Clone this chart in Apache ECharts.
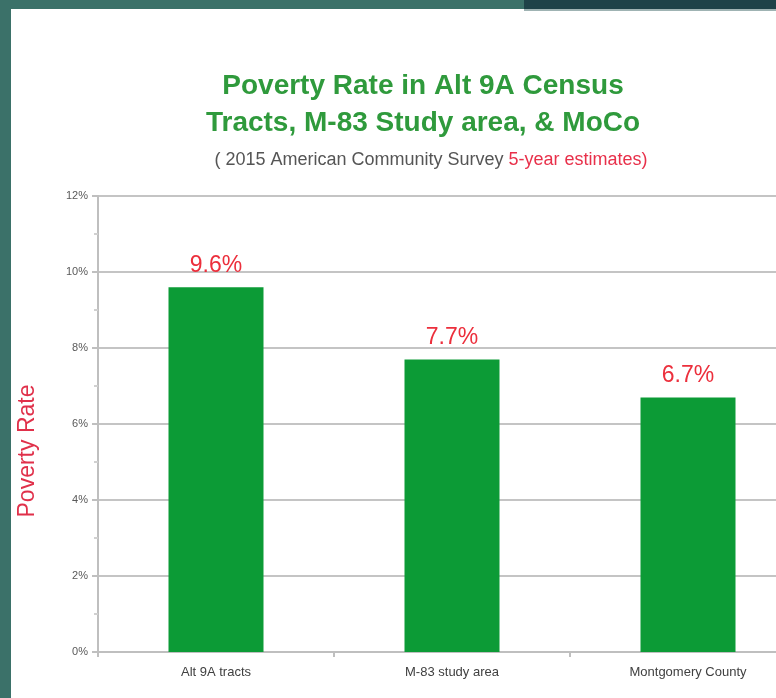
<!DOCTYPE html>
<html>
<head>
<meta charset="utf-8">
<script src="https://cdn.jsdelivr.net/npm/echarts@6/dist/echarts.min.js"></script>
<style>
  html, body { margin: 0; padding: 0; overflow: hidden; }
  #chart { width: 806px; height: 698px; }
</style>
</head>
<body>
<div id="chart"></div>
<script>
// data
var categories = ['Alt 9A tracts', 'M-83 study area', 'Montgomery County'];
var povertyRate = [9.6, 7.7, 6.7];
var yTicks = [0, 2, 4, 6, 8, 10, 12];

var narrow = "'Liberation Sans Narrow', 'Arial Narrow', 'Liberation Sans', sans-serif";

// the plot runs past the right edge of the slide, so the canvas is a bit wider than the window
var option = {
    backgroundColor: '#3b7169',
    animation: false,
    graphic: [
        { type: 'rect', z: -10, shape: { x: 11, y: 9, width: 795, height: 689 }, style: { fill: '#ffffff' } },
        { type: 'rect', z: -9, shape: { x: 524, y: 0, width: 282, height: 9 }, style: { fill: '#1e4248' } },
        { type: 'rect', z: -9, shape: { x: 524, y: 9, width: 282, height: 2 }, style: { fill: '#9fb3b3' } }
    ],
    title: [{
        text: 'Poverty Rate in Alt 9A Census\nTracts, M-83 Study area, & MoCo',
        left: 418,
        top: 63,
        textAlign: 'center',
        textStyle: {
            color: '#2f9a3c',
            fontFamily: narrow,
            fontWeight: 'bold',
            fontSize: 28,
            lineHeight: 37
        }
    }, {
        text: '{a|( 2015 American Community Survey }{b|5-year estimates)}',
        left: 426,
        top: 146,
        textAlign: 'center',
        textStyle: {
            fontWeight: 'normal',
            rich: {
                a: { color: '#555555', fontFamily: narrow, fontSize: 18, fontWeight: 'normal' },
                b: { color: '#e8304a', fontFamily: narrow, fontSize: 18, fontWeight: 'normal' }
            }
        }
    }],
    grid: { left: 98, top: 196, right: 0, height: 456 },
    xAxis: {
        type: 'category',
        data: categories,
        axisLine: { lineStyle: { color: '#bfbfbf', width: 2 } },
        axisTick: { show: true, length: 5, lineStyle: { color: '#bfbfbf', width: 2 } },
        axisLabel: { color: '#404040', fontSize: 13, fontFamily: 'Liberation Sans, sans-serif', margin: 14 }
    },
    yAxis: {
        type: 'value',
        min: yTicks[0],
        max: yTicks[yTicks.length - 1],
        interval: 2,
        name: 'Poverty Rate',
        nameLocation: 'middle',
        nameGap: 59,
        nameTextStyle: { color: '#e0304a', fontSize: 23, fontFamily: narrow, padding: [0, 54, 0, 0] },
        axisLine: { show: true, lineStyle: { color: '#bfbfbf', width: 2 } },
        axisTick: { show: true, length: 6, lineStyle: { color: '#bfbfbf', width: 2 } },
        minorTick: { show: true, splitNumber: 2, length: 4, lineStyle: { color: '#d0d0d0', width: 2 } },
        splitLine: { lineStyle: { color: '#c4c4c4', width: 2 } },
        axisLabel: {
            color: '#595959', fontSize: 11, fontFamily: 'Liberation Sans, sans-serif', margin: 10,
            formatter: function (v) { return v + '%'; }
        }
    },
    series: [{
        type: 'bar',
        data: povertyRate,
        barWidth: 95,
        itemStyle: { color: '#0c9b36' },
        label: {
            show: true,
            position: 'top',
            distance: 10,
            color: '#ec2f3c',
            fontSize: 23,
            fontFamily: narrow,
            formatter: function (p) { return p.value.toFixed(1) + '%'; }
        }
    }]
};

var chart = echarts.init(document.getElementById('chart'));
chart.setOption(option);
window.onresize = chart.resize;
</script>
</body>
</html>
